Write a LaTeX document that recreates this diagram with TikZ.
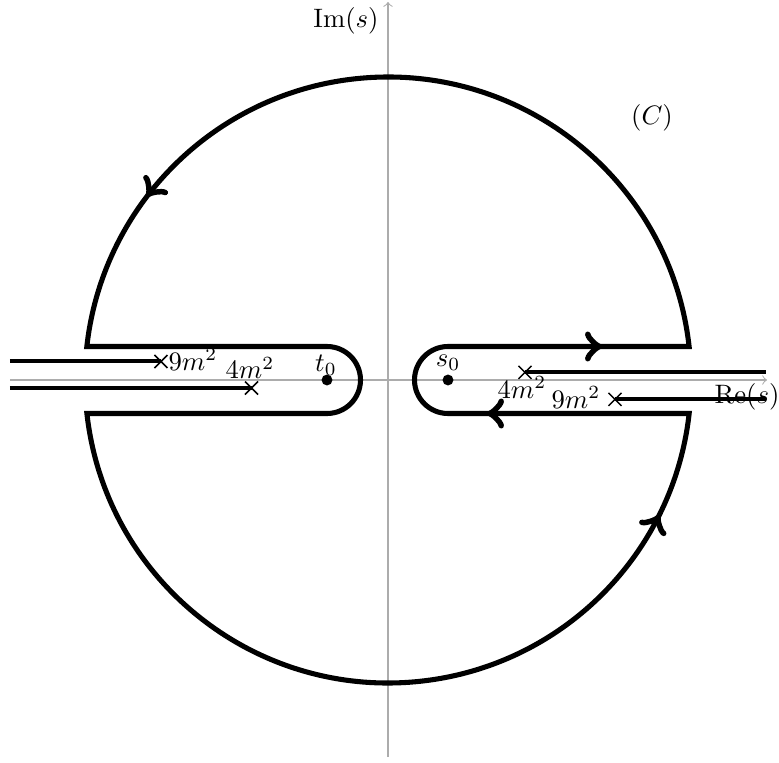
\documentclass[tikz,border=0pt]{standalone}
\usetikzlibrary{decorations.markings}
\tikzset{
  axis/.style={gray!65, line width=0.4pt, ->},
  contour/.style={line width=1.9pt, line join=miter},
  cutline/.style={line width=1.5pt},
  crossmark/.style={line width=0.55pt},
  lbl/.style={anchor=base, inner sep=0pt},
  dotnode/.style={circle, fill, inner sep=0pt, minimum size=4.1pt},
  arrowmark/.style={line width=1.9pt, decorate, decoration={markings, mark=at position 0.5 with {\arrow[scale=1.35]{>}}}}
}
\newcommand{\crossat}[1]{\draw[crossmark] (#1)+(-6.5,-6.5) -- +(6.5,6.5) (#1)+(-6.5,6.5) -- +(6.5,-6.5);}
\begin{document}
\begin{tikzpicture}[x=0.375pt,y=0.375pt]
\useasboundingbox (-388,-382) rectangle (391,380);
% axes
\coordinate (xl) at (-378,0);
\coordinate (xr) at (379,0);
\coordinate (yb) at (0,-377);
\coordinate (yt) at (0,378);
\draw[axis] (xl) -- (xr);
\draw[axis] (yb) -- (yt);
\node[lbl] (im) at (-42,352) {$\mathrm{Im}(s)$};
\node[lbl] (C) at (264,255) {$(C)$};
% contour
\draw[contour] (60,33.5) -- (301.1,33.5) arc (6.35:173.65:303)
  -- (-61,33.5) arc (90:-90:33.5) -- (-301.1,-33.5) arc (186.35:353.65:303)
  -- (60,-33.5) arc (-90:-270:33.5) -- cycle;
% direction arrows
\path[arrowmark] (204,33.5) -- (224,33.5);
\path[arrowmark] (109,-33.5) -- (89,-33.5);
\path[arrowmark] (-234.9,191.6) -- (-247.1,175.6);
\path[arrowmark] (266.7,-144.1) -- (275.7,-126.3);
% points
\node[dotnode] (t0) at (-61,0) {};
\node[dotnode] (s0) at (60,0) {};
\node[lbl] (t0l) at (-62,8) {$t_0$};
\node[lbl] (s0l) at (60,13) {$s_0$};
% cuts
\coordinate (c9l) at (-227,18.5);
\coordinate (c4l) at (-136.5,-8);
\coordinate (c4r) at (137,7.7);
\coordinate (c9r) at (227,-19.3);
\coordinate (e9l) at (-378,18.5);
\coordinate (e4l) at (-378,-8);
\coordinate (e4r) at (378,7.7);
\coordinate (e9r) at (378,-19.3);
\node[lbl] (re) at (359,-24) {$\mathrm{Re}(s)$};
\draw[cutline] (e9l) -- (c9l);
\draw[cutline] (e4l) -- (c4l);
\draw[cutline] (c4r) -- (e4r);
\draw[cutline] (c9r) -- (e9r);
\crossat{c9l}
\crossat{c4l}
\crossat{c4r}
\crossat{c9r}
\node[lbl, anchor=base west] (l9l) at (-220,10) {$9m^2$};
\node[lbl] (l4l) at (-138,1) {$4m^2$};
\node[lbl] (l4r) at (134,-18) {$4m^2$};
\node[lbl] (l9r) at (188,-28) {$9m^2$};
\end{tikzpicture}
\end{document}
